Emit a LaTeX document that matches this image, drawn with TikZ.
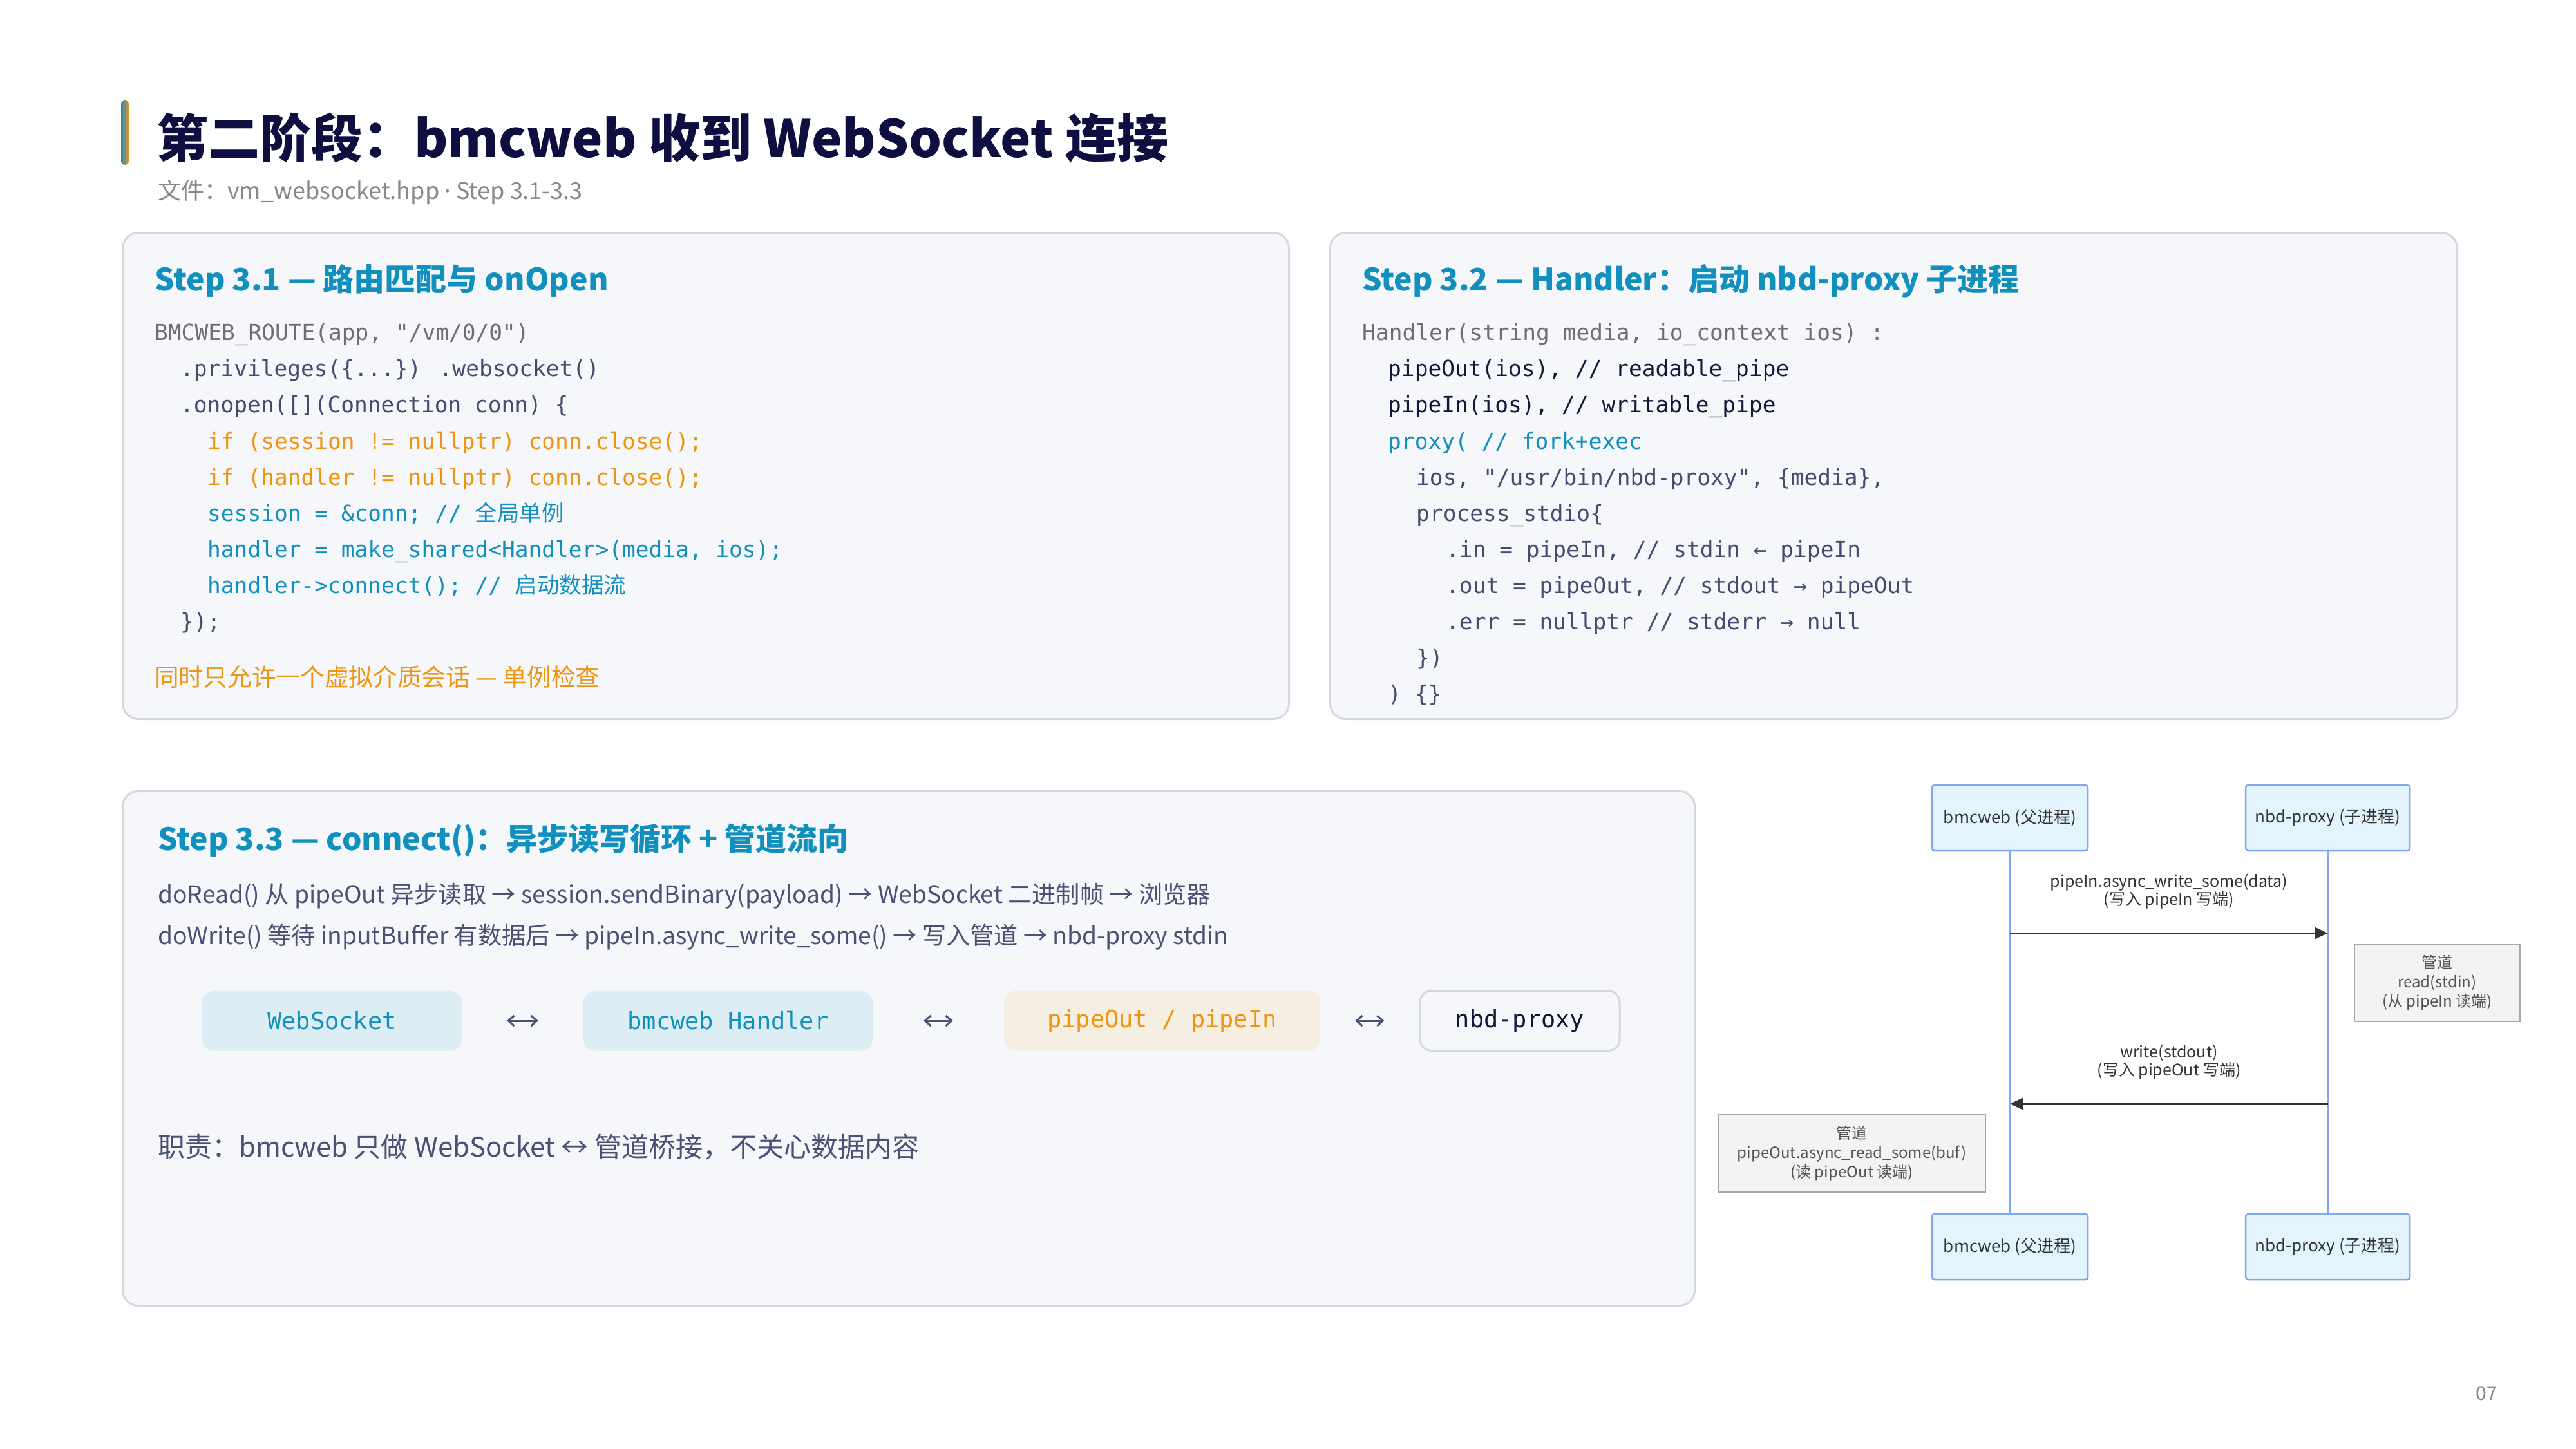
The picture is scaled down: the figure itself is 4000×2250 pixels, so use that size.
\documentclass[tikz,border=0pt]{standalone}
\usepackage{fontspec}
\setmainfont{Noto Sans CJK SC}
\newfontfamily\monof{DejaVu Sans Mono}
\newfontfamily\cjkf{Noto Sans CJK SC}
\newfontfamily\latinf{Noto Sans}
\usetikzlibrary{arrows.meta}
\definecolor{navy}{HTML}{0C0F40}
\definecolor{subgray}{HTML}{888888}
\definecolor{teal}{HTML}{1190BE}
\definecolor{codegray}{HTML}{6F6F6F}
\definecolor{slate}{HTML}{454B6E}
\definecolor{codenavy}{HTML}{141838}
\definecolor{orange}{HTML}{EE940F}
\definecolor{bodyslate}{HTML}{4A5175}
\definecolor{chipblue}{HTML}{DCEDF4}
\definecolor{chipbeige}{HTML}{F4EEE3}
\definecolor{panelfill}{HTML}{F5F7FA}
\definecolor{panelline}{HTML}{D6D8DF}
\definecolor{actorfill}{HTML}{E3F4FD}
\definecolor{actorline}{HTML}{7FA7F3}
\definecolor{notefill}{HTML}{F2F3F5}
\definecolor{noteline}{HTML}{A8A8A8}
\definecolor{seqtext}{HTML}{333333}
\definecolor{barblue}{HTML}{1A8DC4}
\definecolor{barorange}{HTML}{F0941E}
\newcommand\codefont{\monof\fontsize{34.5}{40}\selectfont}
\begin{document}
\begin{tikzpicture}[x=1pt,y=-1pt,
  panel/.style={draw=panelline, line width=3pt, fill=panelfill, rounded corners=24pt, anchor=north west, inner sep=0},
  heading/.style={anchor=base west, inner sep=0, text=teal, font=\fontsize{48}{54}\selectfont\bfseries},
  codeline/.style={anchor=base west, inner sep=0, font=\codefont},
  bodyline/.style={anchor=base west, inner sep=0, text=bodyslate, font=\fontsize{37.2}{44}\selectfont},
  chip/.style={rounded corners=18pt, inner sep=0, minimum height=93pt, font=\monof\fontsize{37}{40}\selectfont},
  bidir/.style={{Straight Barb[length=9pt,width=16pt]}-{Straight Barb[length=9pt,width=16pt]}, line width=3pt, draw=bodyslate},
  actor/.style={draw=actorline, line width=2.5pt, fill=actorfill, rounded corners=4pt, minimum height=102pt, inner sep=0, text=seqtext, font=\fontsize{26}{30}\selectfont},
  life/.style={draw=actorline, line width=2.5pt},
  msg/.style={draw=seqtext, line width=3pt, -{Triangle[length=20pt,width=18pt]}},
  seqlabel/.style={align=center, inner sep=0, text=seqtext, font=\fontsize{25}{28}\selectfont},
  note/.style={draw=noteline, line width=2.5pt, fill=notefill, inner sep=0, align=center, text=seqtext!85, font=\fontsize{24}{30}\selectfont}
]
\useasboundingbox (0,0) rectangle (4000,2250);
\fill[white] (0,0) rectangle (4000,2250);

% title
\shade[left color=barblue, right color=barorange, rounded corners=6pt] (188,156) rectangle (200,256);
\node[anchor=base west, inner sep=0, text=navy, font=\fontsize{80}{90}\selectfont\bfseries] (title) at (243,245) {第二阶段：bmcweb 收到 WebSocket 连接};
\node[anchor=base west, inner sep=0, text=subgray, font=\fontsize{36}{40}\selectfont] (subtitle) at (245,309) {文件：vm\_websocket.hpp {\latinf ·} Step 3.1-3.3};

% panels
\node[panel, minimum width=1811pt, minimum height=755pt] (p1) at (189,360) {};
\node[panel, minimum width=1750pt, minimum height=755pt] (p2) at (2064,360) {};
\node[panel, minimum width=2441pt, minimum height=799pt] (p3) at (189,1227) {};

% panel 1
\node[heading] (h1) at (240,451) {Step 3.1 — 路由匹配与 onOpen};
\node[codeline, text=codegray] (c11) at (240,528) {BMCWEB\_ROUTE(app, "/vm/0/0")};
\node[codeline, text=slate] (c12) at (280,584) {.privileges(\{...\}) .websocket()};
\node[codeline, text=slate] (c13) at (280,640) {.onopen([](Connection conn) \{};
\node[codeline, text=orange] (c14) at (322,697) {if (session != nullptr) conn.close();};
\node[codeline, text=orange] (c15) at (322,753) {if (handler != nullptr) conn.close();};
\node[codeline, text=teal] (c16) at (322,809) {session = \&conn; // {\cjkf 全局单例}};
\node[codeline, text=teal] (c17) at (322,865) {handler = make\_shared<Handler>(media, ios);};
\node[codeline, text=teal] (c18) at (322,921) {handler->connect(); // {\cjkf 启动数据流}};
\node[codeline, text=slate] (c19) at (280,977) {\});};
\node[anchor=base west, inner sep=0, text=orange, font=\fontsize{37.7}{42}\selectfont] (f1) at (240,1065) {同时只允许一个虚拟介质会话 — 单例检查};

% panel 2
\node[heading] (h2) at (2115,451) {Step 3.2 — Handler：启动 nbd-proxy 子进程};
\node[codeline, text=codegray] (c21) at (2115,528) {Handler(string media, io\_context ios) :};
\node[codeline, text=codenavy] (c22) at (2155,584) {pipeOut(ios), // readable\_pipe};
\node[codeline, text=codenavy] (c23) at (2155,640) {pipeIn(ios), // writable\_pipe};
\node[codeline, text=teal] (c24) at (2155,697) {proxy( // fork+exec};
\node[codeline, text=slate] (c25) at (2199,753) {ios, "/usr/bin/nbd-proxy", \{media\},};
\node[codeline, text=slate] (c26) at (2199,809) {process\_stdio\{};
\node[codeline, text=slate] (c27) at (2245,865) {.in = pipeIn, // stdin ← pipeIn};
\node[codeline, text=slate] (c28) at (2245,921) {.out = pipeOut, // stdout → pipeOut};
\node[codeline, text=slate] (c29) at (2245,977) {.err = nullptr // stderr → null};
\node[codeline, text=slate] (c2a) at (2199,1033) {\})};
\node[codeline, text=slate] (c2b) at (2155,1089) {) \{\}};

% panel 3
\node[heading] (h3) at (245,1320) {Step 3.3 — connect()：异步读写循环 + 管道流向};
\node[bodyline] (b31) at (245,1402) {doRead() 从 pipeOut 异步读取 → session.sendBinary(payload) → WebSocket 二进制帧 → 浏览器};
\node[bodyline] (b32) at (245,1466) {doWrite() 等待 inputBuffer 有数据后 → pipeIn.async\_write\_some() → 写入管道 → nbd-proxy stdin};

\node[chip, fill=chipblue, text=teal, minimum width=403pt] (ws) at (515.5,1585) {WebSocket};
\node[chip, fill=chipblue, text=teal, minimum width=449pt] (hd) at (1130.5,1585) {bmcweb Handler};
\node[chip, fill=chipbeige, text=orange, minimum width=491pt] (pp) at (1804.5,1585) {pipeOut / pipeIn};
\node[chip, draw=panelline, line width=3pt, fill=panelfill, text=codenavy, minimum width=310pt] (nbd) at (2360,1585) {nbd-proxy};
\draw[bidir, shorten <=70pt, shorten >=70pt] (ws) -- (hd);
\draw[bidir, shorten <=79pt, shorten >=79pt] (hd) -- (pp);
\draw[bidir, shorten <=54pt, shorten >=54pt] (pp) -- (nbd);

\node[anchor=base west, inner sep=0, text=bodyslate, font=\fontsize{42}{46}\selectfont] (duty) at (245,1796) {职责：bmcweb 只做 WebSocket ↔ 管道桥接，不关心数据内容};

% sequence diagram
\node[actor, minimum width=242pt] (a1) at (3121,1270) {bmcweb (父进程)};
\node[actor, minimum width=255pt] (a2) at (3614.5,1270) {nbd-proxy (子进程)};
\node[actor, minimum width=242pt] (e1) at (3121,1936) {bmcweb (父进程)};
\node[actor, minimum width=255pt] (e2) at (3614.5,1936) {nbd-proxy (子进程)};
\draw[life] (a1) -- (e1);
\draw[life] (a2) -- (e2);

\coordinate (y1) at (0,1449);
\coordinate (y2) at (0,1714);
\node[seqlabel] (l1) at (3368,1384) {pipeIn.async\_write\_some(data)\\(写入 pipeIn 写端)};
\draw[msg] (a1 |- y1) -- (a2 |- y1);
\node[note, minimum width=257pt, minimum height=119pt] (n1) at (3784.5,1526.5) {管道\\read(stdin)\\(从 pipeIn 读端)};
\node[seqlabel] (l2) at (3368,1649) {write(stdout)\\(写入 pipeOut 写端)};
\draw[msg] (a2 |- y2) -- (a1 |- y2);
\node[note, minimum width=415pt, minimum height=120pt] (n2) at (2875.5,1791) {管道\\pipeOut.async\_read\_some(buf)\\(读 pipeOut 读端)};

\node[inner sep=0, text=subgray, font=\fontsize{30}{34}\selectfont] (pg) at (3861,2164) {07};
\end{tikzpicture}
\end{document}
